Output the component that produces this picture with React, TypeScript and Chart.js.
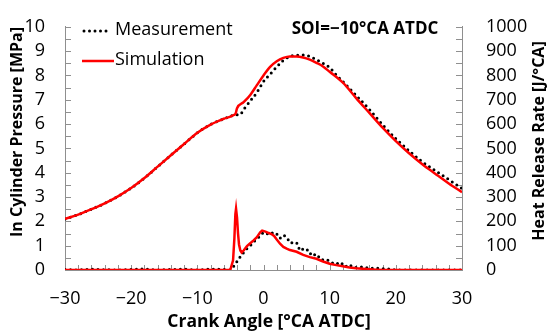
import React, { useEffect, useRef } from "react";
import { Chart, registerables } from "chart.js";
Chart.register(...registerables);

const FONT = "'Open Sans', sans-serif";

// Crank angle ticks
const xTickValues = [-30, -20, -10, 0, 10, 20, 30];

// In-cylinder pressure, simulation [MPa]
const simPressureAngle = [-30, -28, -26, -24, -22, -20, -18, -16, -14, -12, -10, -8, -6, -4.5, -4.2, -4, -3, -2, -1, 0, 1, 2, 3, 4, 5, 6, 7, 8, 9, 10, 12, 14, 16, 18, 20, 22, 24, 26, 28, 30];
const simPressure = [2.1, 2.28, 2.5, 2.74, 3.03, 3.37, 3.78, 4.25, 4.72, 5.18, 5.64, 5.98, 6.22, 6.37, 6.45, 6.65, 6.9, 7.2, 7.6, 8.0, 8.35, 8.58, 8.72, 8.78, 8.78, 8.74, 8.65, 8.52, 8.37, 8.15, 7.7, 7.07, 6.46, 5.85, 5.3, 4.8, 4.35, 3.95, 3.56, 3.2];

// In-cylinder pressure, measurement [MPa]
const measPressureAngle = [-30, -28, -26, -24, -22, -20, -18, -16, -14, -12, -10, -8, -6, -4.5, -4, -3.5, -3, -2, -1, 0, 1, 2, 3, 4, 5, 6, 7, 8, 9, 10, 11, 12, 14, 16, 18, 20, 22, 24, 26, 28, 30];
const measPressure = [2.1, 2.28, 2.5, 2.74, 3.03, 3.37, 3.78, 4.25, 4.72, 5.18, 5.64, 5.98, 6.22, 6.36, 6.38, 6.4, 6.6, 6.95, 7.3, 7.75, 8.05, 8.35, 8.62, 8.78, 8.83, 8.84, 8.78, 8.65, 8.5, 8.33, 8.02, 7.75, 7.18, 6.6, 5.97, 5.4, 4.9, 4.45, 4.08, 3.72, 3.35];

// Heat release rate, simulation [J/°CA]
const simHrrAngle = [-30, -5.2, -5, -4.6, -4.4, -4.25, -4.15, -4.0, -3.85, -3.7, -3.5, -3.3, -3.0, -2.5, -2, -1.5, -1, -0.5, -0.2, 0.3, 0.8, 1.2, 1.6, 2, 2.5, 3, 3.5, 4, 5, 6, 7, 8, 9, 10, 11, 12, 13, 14, 15, 16, 17, 18, 30];
const simHrr = [0, 0, 2, 40, 130, 230, 252, 215, 150, 105, 80, 72, 80, 98, 110, 122, 135, 155, 162, 158, 152, 148, 140, 125, 108, 95, 88, 82, 75, 62, 53, 46, 35, 26, 20, 15, 10, 7, 5, 3, 1.5, 0, 0];

// Heat release rate, measurement [J/°CA]
const measHrrAngle = [-30, -28, -26, -24, -22, -20, -18, -16, -14, -12, -10, -8, -6, -5, -4.5, -4, -3.5, -3, -2.5, -2, -1.5, -1, -0.5, 0, 0.5, 1, 1.5, 2, 2.5, 3, 3.5, 4, 4.5, 5, 5.5, 6, 6.5, 7, 7.5, 8, 8.5, 9, 9.5, 10, 10.5, 11, 11.5, 12, 12.5, 13, 13.5, 14, 15, 16, 17, 18, 19, 20, 22, 24, 26, 28, 30];
const measHrr = [2, 0, 3, 1, 0, 2, 4, 0, 2, 3, 0, 4, 2, 0, 15, 35, 55, 72, 88, 100, 115, 128, 140, 155, 150, 146, 155, 148, 130, 143, 136, 112, 112, 113, 80, 87, 88, 66, 72, 52, 55, 40, 42, 38, 27, 30, 20, 28, 15, 22, 12, 10, 13, 7, 8, 5, 4, 0, 0, 0, 0, 0, 0];

const toPoints = (xs: number[], ys: number[]) => xs.map((x, i) => ({ x, y: ys[i] }));
const fmt = (v: number) => (v < 0 ? "\u2212" + Math.abs(v) : String(v));

const AXIS_COLOR = "#8f8f8f";
const RED = "#ff0000";

const decorPlugin = {
  id: "decor",
  beforeDatasetsDraw(chart: any) {
    const { ctx, chartArea, scales } = chart;
    const { left, right, bottom } = chartArea;
    ctx.save();
    ctx.strokeStyle = AXIS_COLOR;
    ctx.lineWidth = 1;
    ctx.beginPath();
    for (let v = -30; v <= 30; v += 2) {
      const px = Math.round(scales.x.getPixelForValue(v)) + 0.5;
      ctx.moveTo(px, bottom);
      ctx.lineTo(px, bottom - 5);
    }
    for (let v = 0; v <= 10; v += 0.5) {
      const py = Math.round(scales.y.getPixelForValue(v)) + 0.5;
      ctx.moveTo(left, py);
      ctx.lineTo(left + 6, py);
    }
    for (let v = 0; v <= 1000; v += 50) {
      const py = Math.round(scales.y1.getPixelForValue(v)) + 0.5;
      ctx.moveTo(right, py);
      ctx.lineTo(right - 6, py);
    }
    ctx.stroke();
    ctx.restore();
  },
  afterDraw(chart: any) {
    const { ctx } = chart;
    ctx.save();
    ctx.fillStyle = "#000";
    ctx.textAlign = "center";
    ctx.textBaseline = "middle";
    ctx.font = `bold 17.5px ${FONT}`;
    ctx.fillText("Crank Angle [°CA ATDC]", 269, 322);
    ctx.font = `bold 16px ${FONT}`;
    ctx.save();
    ctx.translate(17, 132);
    ctx.rotate(-Math.PI / 2);
    ctx.fillText("In Cylinder Pressure [MPa]", 0, 0);
    ctx.restore();
    ctx.save();
    ctx.translate(539, 141);
    ctx.rotate(-Math.PI / 2);
    ctx.fillText("Heat Release Rate [J/°CA]", 0, 0);
    ctx.restore();
    ctx.font = `bold 17px ${FONT}`;
    ctx.fillText("SOI=\u221210°CA ATDC", 365, 29);
    const ds = chart.data.datasets;
    const meas = ds.find((d: any) => d.label === "Measurement");
    const sim = ds.find((d: any) => d.label === "Simulation");
    ctx.lineCap = "round";
    ctx.strokeStyle = meas.borderColor;
    ctx.lineWidth = meas.borderWidth;
    ctx.setLineDash(meas.borderDash);
    ctx.beginPath();
    ctx.moveTo(84, 31);
    ctx.lineTo(111, 31);
    ctx.stroke();
    ctx.setLineDash([]);
    ctx.lineCap = "butt";
    ctx.strokeStyle = sim.borderColor;
    ctx.lineWidth = sim.borderWidth;
    ctx.beginPath();
    ctx.moveTo(82, 61);
    ctx.lineTo(114, 61);
    ctx.stroke();
    ctx.font = `18px ${FONT}`;
    ctx.textAlign = "left";
    ctx.fillText("Measurement", 115, 30);
    ctx.fillText("Simulation", 115, 60);
    ctx.restore();
  },
};

export default function App() {
  const ref = useRef<HTMLCanvasElement | null>(null);
  useEffect(() => {
    if (!ref.current) return;
    const dotted = { borderColor: "#000", borderWidth: 3, borderDash: [0, 5.5], borderCapStyle: "round" };
    const solid = { borderColor: RED, borderWidth: 2.5 };
    const smooth = { cubicInterpolationMode: "monotone" };
    const tickFont = { family: FONT, size: 18 };
    const chart = new Chart(ref.current, {
      type: "line",
      data: {
        datasets: [
          { label: "Simulation", data: toPoints(simPressureAngle, simPressure), yAxisID: "y", ...solid, ...smooth },
          { label: "Simulation HRR", data: toPoints(simHrrAngle, simHrr), yAxisID: "y1", ...solid },
          { label: "Measurement", data: toPoints(measPressureAngle, measPressure), yAxisID: "y", ...dotted, ...smooth },
          { label: "Measurement HRR", data: toPoints(measHrrAngle, measHrr), yAxisID: "y1", ...dotted },
        ] as any,
      },
      options: {
        animation: false,
        responsive: false,
        devicePixelRatio: 1,
        elements: { point: { radius: 0 }, line: { tension: 0 } },
        layout: { padding: { top: 13, left: 0, right: 0, bottom: 0 } },
        plugins: { legend: { display: false }, tooltip: { enabled: false } },
        scales: {
          x: {
            type: "linear",
            min: -30,
            max: 30,
            afterFit: (s: any) => { s.height = 66; },
            afterBuildTicks: (s: any) => { s.ticks = xTickValues.map((v) => ({ value: v })); },
            ticks: { callback: (v: any) => fmt(Number(v)), font: tickFont, color: "#000", padding: 10, maxRotation: 0, autoSkip: false },
            grid: { display: false },
            border: { display: true, color: AXIS_COLOR, width: 1 },
          },
          y: {
            position: "left",
            min: 0,
            max: 10,
            afterFit: (s: any) => { s.width = 65; },
            ticks: { stepSize: 1, autoSkip: false, callback: (v: any) => String(v), font: tickFont, color: "#000", padding: 12 },
            grid: { display: false },
            border: { display: true, color: AXIS_COLOR, width: 1 },
          },
          y1: {
            position: "right",
            min: 0,
            max: 1000,
            afterFit: (s: any) => { s.width = 88; },
            ticks: { stepSize: 100, autoSkip: false, callback: (v: any) => String(v), font: tickFont, color: "#000", padding: 16 },
            grid: { display: false },
            border: { display: true, color: AXIS_COLOR, width: 1 },
          },
        },
      } as any,
      plugins: [decorPlugin],
    });
    return () => chart.destroy();
  }, []);
  return (
    <div style={{ position: "absolute", left: 0, top: 0, width: 550, height: 336, background: "#fff" }}>
      <canvas ref={ref} width={550} height={336} />
    </div>
  );
}
